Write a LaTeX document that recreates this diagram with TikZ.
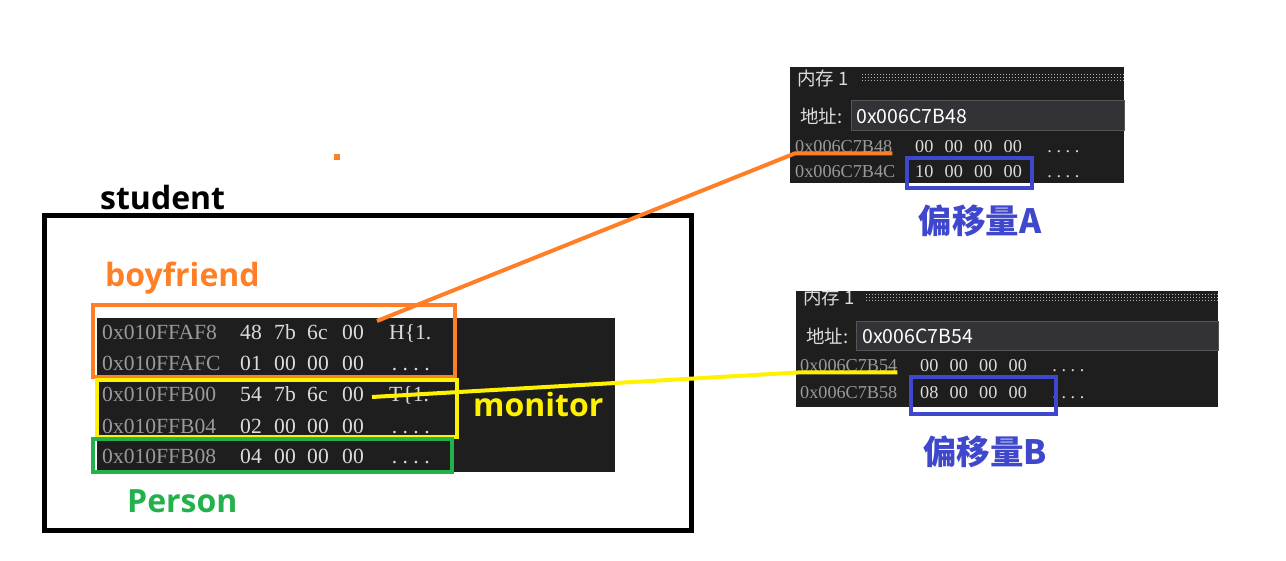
\documentclass[tikz,border=0pt]{standalone}
\usepackage{fontspec}
\newfontfamily\cjk{Noto Sans CJK SC}
\newfontfamily\lab{Open Sans}
\newfontfamily\mem{Liberation Serif}

\definecolor{memBg}{HTML}{1E1E1E}
\definecolor{memAddr}{HTML}{9A9A9A}
\definecolor{memByte}{HTML}{DCDCDC}
\definecolor{boxBg}{HTML}{333337}
\definecolor{boxEdge}{HTML}{555555}
\definecolor{cOrange}{RGB}{255,127,39}
\definecolor{cYellow}{RGB}{255,242,0}
\definecolor{cGreen}{RGB}{34,177,76}
\definecolor{cBlue}{RGB}{63,72,204}

% four evenly spaced dots, as in a fixed-pitch dump
\newcommand\fourdots{\makebox[.5em][c]{.}\makebox[.5em][c]{.}\makebox[.5em][c]{.}\makebox[.5em][c]{.}}

% one row of the stack dump: name, baseline, address, four bytes, ascii
\newcommand\stackrow[8]{%
  \node[addrL] (#1a) at (102,#2) {#3};
  \node[byteL] (#1b) at (240,#2) {#4};
  \node[byteL] (#1c) at (274,#2) {#5};
  \node[byteL] (#1d) at (307,#2) {#6};
  \node[byteL] (#1e) at (342,#2) {#7};
  \node[byteL] (#1f) at (389,#2) {#8};}

% one row of a memory window: name, x of address, baseline, address, four bytes
\newcommand\winrow[8]{%
  \node[addrR] (#1a) at (#2,#3) {#4};
  \node[byteR] (#1b) at (#2+120,#3) {#5};
  \node[byteR] (#1c) at (#2+149.5,#3) {#6};
  \node[byteR] (#1d) at (#2+179,#3) {#7};
  \node[byteR] (#1e) at (#2+208.5,#3) {#8};
  \node[byteR] (#1f) at (#2+250,#3) {\fourdots};}

\begin{document}
\begin{tikzpicture}[x=1pt,y=-1pt,
  lbl/.style={font=\lab\bfseries\fontsize{32}{32}\selectfont, inner sep=0pt, anchor=base west},
  offs/.style={font=\cjk\bfseries\fontsize{33.5}{33.5}\selectfont, text=cBlue, inner sep=0pt},
  addrL/.style={font=\mem\fontsize{21.6}{21.6}\selectfont, text=memAddr, anchor=base west, inner sep=0pt},
  byteL/.style={font=\mem\fontsize{21.6}{21.6}\selectfont, text=memByte, anchor=base west, inner sep=0pt},
  addrR/.style={font=\mem\fontsize{18.2}{18.2}\selectfont, text=memAddr, anchor=base west, inner sep=0pt},
  byteR/.style={font=\mem\fontsize{18.2}{18.2}\selectfont, text=memByte, anchor=base west, inner sep=0pt},
  wintitle/.style={font=\cjk\fontsize{18.5}{18.5}\selectfont, text=memByte, anchor=west, inner sep=0pt},
  winlabel/.style={font=\cjk\fontsize{18.5}{18.5}\selectfont, text=memByte, anchor=west, inner sep=0pt},
  wininput/.style={font=\cjk\fontsize{19.5}{19.5}\selectfont, text=white, anchor=west, inner sep=0pt},
  grip/.style={draw=gray!60, line width=1pt, dash pattern=on 1pt off 2pt},
  frame/.style={line width=4.5pt},
  link/.style={line width=4pt, line join=round},
  offsetbox/.style={draw=cBlue, line width=4pt}]

\useasboundingbox (0,0) rectangle (1286,561);
\fill[white] (0,0) rectangle (1286,561);

% ---------- student object ----------
\node[lbl] (student) at (100,210) {student};
\draw[line width=5pt] (44,215.5) rectangle (691.5,530.5);
\node[lbl, text=cOrange] (boyfriend) at (105,287) {boyfriend};

% stack dump
\fill[memBg] (97,318) rectangle (615,472);
\stackrow{r1}{340}{0x010FFAF8}{48}{7b}{6c}{00}{H\{1.}
\stackrow{r2}{371}{0x010FFAFC}{01}{00}{00}{00}{\fourdots}
\stackrow{r3}{402}{0x010FFB00}{54}{7b}{6c}{00}{T\{1.}
\stackrow{r4}{434}{0x010FFB04}{02}{00}{00}{00}{\fourdots}
\stackrow{r5}{464}{0x010FFB08}{04}{00}{00}{00}{\fourdots}

\node[lbl, text=cYellow] (monitor) at (473,417) {monitor};
\node[lbl, text=cGreen] (person) at (127,512) {Person};

% member frames
\draw[cOrange, frame] (93,305) rectangle (455,377);
\draw[cYellow, frame] (97,380) rectangle (457,437);
\draw[cGreen, frame] (93,439) rectangle (452,472);

% small stray dot
\fill[cOrange] (334,154) rectangle (340,160);

% ---------- memory window A ----------
\fill[memBg] (790,67) rectangle (1124,183);
\node[wintitle] (titleA) at (797,78) {内存 1};
\foreach \yy in {75,78,81} \draw[grip] (862,\yy) -- (1124,\yy);
\node[winlabel] (lblA) at (800,116) {地址:};
\draw[fill=boxBg, draw=boxEdge] (851,100.5) rectangle (1124,130.5);
\node[wininput] (inA) at (856,116) {0x006C7B48};
\winrow{a1}{795}{153}{0x006C7B48}{00}{00}{00}{00}
\winrow{a2}{795}{178}{0x006C7B4C}{10}{00}{00}{00}
\draw[offsetbox] (907,158) rectangle (1032,188.5);
\node[offs] (offA) at (980,221) {偏移量A};

% ---------- memory window B ----------
\fill[memBg] (796,291) rectangle (1218,407);
\begin{scope}
  \clip (796,291) rectangle (1218,407);
  \node[wintitle] (titleB) at (803,297) {内存 1};
\end{scope}
\foreach \yy in {295,298,301} \draw[grip] (866,\yy) -- (1218,\yy);
\node[winlabel] (lblB) at (806,336) {地址:};
\draw[fill=boxBg, draw=boxEdge] (856,321.5) rectangle (1218,350);
\node[wininput] (inB) at (862,336) {0x006C7B54};
\winrow{b1}{800}{372}{0x006C7B54}{00}{00}{00}{00}
\winrow{b2}{800}{399}{0x006C7B58}{08}{00}{00}{00}
\draw[offsetbox] (911,377) rectangle (1056,414);
\node[offs] (offB) at (985,452) {偏移量B};

% ---------- pointers ----------
\coordinate (pA) at (377,321);
\coordinate (pB) at (372,397);
\draw[cOrange, link] (pA) -- (a1a.south west) -- (a1a.south east);
\draw[cYellow, link] (pB) -- (b1a.south west) -- (b1a.south east);

\end{tikzpicture}
\end{document}
